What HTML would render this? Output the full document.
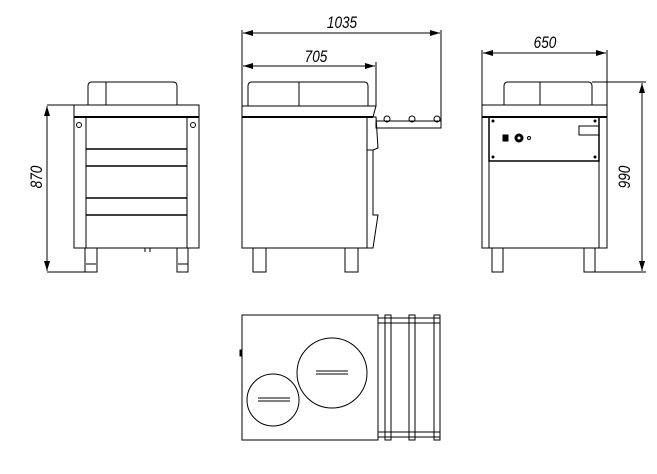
<!DOCTYPE html>
<html><head><style>body{margin:0;background:#fff}svg{display:block}</style></head><body>
<svg width="657" height="474" viewBox="0 0 657 474" xmlns="http://www.w3.org/2000/svg" fill="none" stroke="#000" stroke-width="1">
<defs><marker id="a" viewBox="0 0 10 6" refX="10" refY="3" markerWidth="10" markerHeight="6" orient="auto-start-reverse"><path d="M0,0L10,3L0,6z" fill="#000" stroke="none"/></marker></defs>
<g font-family="Liberation Sans, sans-serif" font-style="italic" font-size="17" fill="#000" stroke="none">
<text transform="translate(42,177) rotate(-90) scale(0.8,1)" text-anchor="middle">870</text>
<text transform="translate(342,28) scale(0.8,1)" text-anchor="middle">1035</text>
<text transform="translate(316,62) scale(0.8,1)" text-anchor="middle">705</text>
<text transform="translate(545,48) scale(0.8,1)" text-anchor="middle">650</text>
<text transform="translate(630,177) rotate(-90) scale(0.8,1)" text-anchor="middle">990</text>
</g>
<!-- front -->
<path d="M88,105V86q0-4 4-4H173q4,0 4,4V105M106,82V105"/>
<rect x="74" y="105" width="125" height="12"/><path d="M74,117H199" stroke-width="2"/>
<rect x="74" y="117" width="125" height="131"/>
<path d="M86,117V248M187,117V248"/>
<path d="M86,149H187M86,166H187M86,198H187M86,215H187" stroke-width="1.5"/>
<circle cx="79" cy="125" r="2.5"/><circle cx="193" cy="125" r="2.5"/>
<rect x="85" y="248" width="12" height="24"/><rect x="177" y="248" width="11" height="24"/>
<path d="M86,264H96M178,264H188M145,248v4M150,248v4"/>
<path d="M47,105H74M47,272H85"/><path d="M47,106V271" marker-start="url(#a)" marker-end="url(#a)"/>
<!-- side -->
<path d="M248,106V86q0-4 4-4H364q4,0 4,4V106M299,82V106"/>
<path d="M242,106H376L373,117H242z"/><path d="M242,117H373" stroke-width="2"/>
<path d="M242,117V248H367V117"/>
<path d="M367,117L376,117L378,148L373,150H367M373,150V215L378,215L373,248H367M367,150V215"/>
<rect x="376" y="121" width="65" height="7"/>
<circle cx="387" cy="119" r="3"/><circle cx="412" cy="119" r="3"/><circle cx="437" cy="119" r="3"/>
<rect x="253" y="248" width="13" height="24"/><rect x="345" y="248" width="13" height="24"/>
<path d="M242,30V106M441,30V121M376,62V106"/>
<path d="M243,33H440" marker-start="url(#a)" marker-end="url(#a)"/>
<path d="M243,66H375" marker-start="url(#a)" marker-end="url(#a)"/>
<!-- rear -->
<path d="M504,105V86q0-4 4-4H588q4,0 4,4V105M540,82V105"/>
<rect x="482" y="105" width="125" height="12"/><path d="M482,117H607" stroke-width="2"/>
<path d="M482,117V248H607V117M489,117V248M599,117V248"/>
<rect x="489" y="117" width="110" height="44" stroke-width="1.5"/>
<rect x="579" y="126" width="20" height="9"/>
<rect x="503" y="135" width="5" height="6" fill="#000"/>
<circle cx="519" cy="138" r="4" fill="#000"/><circle cx="519" cy="138" r="1.5" fill="#fff" stroke="none"/>
<circle cx="529" cy="138" r="1.5"/>
<g fill="#000" stroke="none"><circle cx="493" cy="121" r="1.5"/><circle cx="595" cy="121" r="1.5"/><circle cx="493" cy="157" r="1.5"/><circle cx="595" cy="157" r="1.5"/></g>
<rect x="492" y="248" width="11" height="24"/><rect x="584" y="248" width="11" height="24"/>
<path d="M482,50V105M607,50V105"/>
<path d="M483,53H606" marker-start="url(#a)" marker-end="url(#a)"/>
<path d="M592,82H646M595,272H646"/>
<path d="M642,83V271" marker-start="url(#a)" marker-end="url(#a)"/>
<!-- top -->
<rect x="242" y="315" width="136" height="125"/>
<rect x="240" y="350" width="2" height="6" fill="#000"/>
<circle cx="332" cy="373" r="35"/><circle cx="273" cy="400" r="26"/>
<path d="M316,371H348M316,374H348M258,398H290M258,401H290"/>
<path d="M378,318H440M378,323H440M378,432H440M378,437H440"/>
<rect x="385" y="315" width="6" height="125"/><rect x="409" y="315" width="6" height="125"/><rect x="434" y="315" width="6" height="125"/>
</svg>
</body></html>
